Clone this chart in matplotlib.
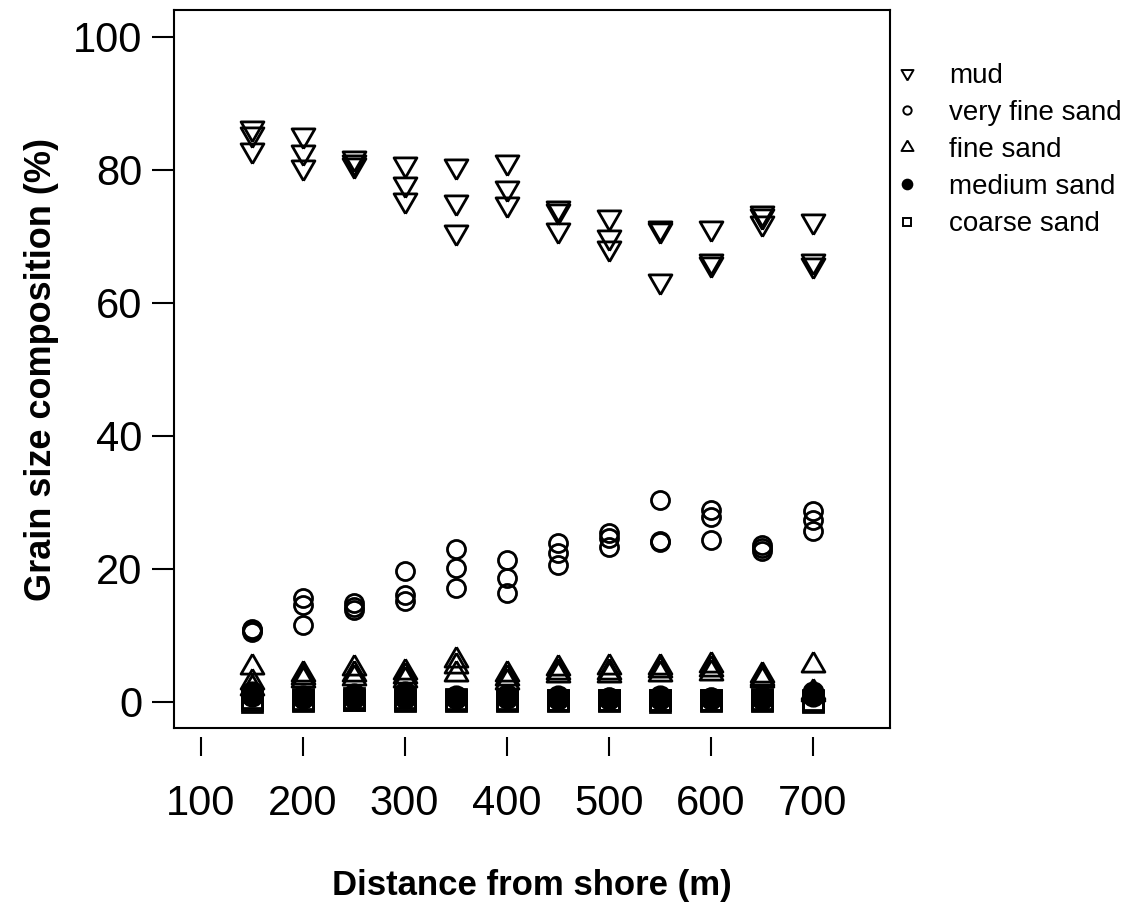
import numpy as np
import matplotlib
matplotlib.use("Agg")
import matplotlib.pyplot as plt
from matplotlib.lines import Line2D

plt.rcParams["font.family"] = ["Liberation Sans", "DejaVu Sans"]

# sampling stations, three replicate cores at each
stations = [150, 200, 250, 300, 350, 400, 450, 500, 550, 600, 650, 700]
distance = np.repeat(stations, 3)

# grain size fractions (%)
mud = [86.3, 85.4, 82.9, 85.2, 82.6, 80.4, 81.8, 81.2, 80.7,
       80.9, 77.9, 75.5, 80.6, 75.2, 70.6, 81.2, 77.2, 74.9,
       74.2, 73.8, 70.9, 72.8, 69.8, 68.2, 71.2, 70.9, 63.2,
       71.2, 66.2, 65.8, 73.5, 73.0, 71.9, 72.2, 66.2, 65.7]

very_fine_sand = [10.8, 10.5, 11.0, 15.6, 14.6, 11.6, 14.8, 14.3, 13.8,
                  19.6, 16.1, 15.1, 23.0, 20.1, 17.1, 21.3, 18.6, 16.3,
                  23.8, 22.4, 20.5, 25.3, 24.6, 23.3, 30.3, 24.2, 24.0,
                  28.8, 27.8, 24.3, 23.6, 23.1, 22.7, 28.6, 27.3, 25.6]

fine_sand = [5.2, 3.0, 2.0, 4.2, 3.7, 3.2, 5.0, 4.2, 3.5,
             4.5, 3.8, 3.2, 6.3, 5.4, 4.2, 4.2, 3.5, 3.0,
             5.0, 4.5, 4.0, 5.2, 4.5, 4.0, 5.2, 4.8, 4.2,
             5.5, 4.9, 4.3, 4.0, 3.6, 3.3, 5.5, 1.5, 1.2]

medium_sand = [1.5, 1.0, 0.8, 0.8, 0.6, 0.5, 1.2, 0.8, 0.5,
               1.5, 1.0, 0.6, 0.8, 0.6, 0.5, 1.0, 0.7, 0.5,
               0.8, 0.5, 0.4, 0.6, 0.5, 0.4, 0.8, 0.6, 0.4,
               0.6, 0.5, 0.4, 0.7, 0.5, 0.4, 1.5, 1.0, 0.8]

coarse_sand = [0.0, 0.3, 0.5, 0.1, 0.2, 0.4, 0.2, 0.3, 0.6,
               0.1, 0.3, 0.5, 0.1, 0.2, 0.4, 0.1, 0.3, 0.4,
               0.1, 0.2, 0.3, 0.1, 0.2, 0.3, 0.0, 0.2, 0.3,
               0.1, 0.2, 0.3, 0.1, 0.2, 0.4, 0.0, 0.1, 0.2]

labels = ["mud", "very fine sand", "fine sand", "medium sand", "coarse sand"]

# equilateral triangles centred on their centroid
tri_up = [(0, 1), (-0.866, -0.5), (0.866, -0.5), (0, 1)]
tri_down = [(0, -1), (-0.866, 0.5), (0.866, 0.5), (0, -1)]

styles = [
    dict(marker=tri_down, mfc="none", ms=19),
    dict(marker="o", mfc="none", ms=13),
    dict(marker=tri_up, mfc="none", ms=19),
    dict(marker="o", mfc="black", ms=14),
    dict(marker="s", mfc="none", ms=14),
]
legend_ms = [10, 6, 10, 7, 6]

series = [mud, very_fine_sand, fine_sand, medium_sand, coarse_sand]

fig = plt.figure(figsize=(11.33, 9.07), dpi=100)
ax = fig.add_axes([0.1536, 0.197, 0.632, 0.792])

for values, st in zip(series, styles):
    ax.plot(distance, values, linestyle="none", mec="black", mew=2.0, **st)

ax.set_xlim(74, 776)
ax.set_ylim(-4, 104)

for sp in ax.spines.values():
    sp.set_linewidth(1.5)

ax.set_yticks([0, 20, 40, 60, 80, 100])
ax.tick_params(axis="y", direction="out", length=16, width=1.5,
               pad=7, labelsize=30)

# x axis is drawn a little below the box
ax.set_xticks([])
sec = ax.secondary_xaxis(-0.012)
sec.set_xticks([100, 200, 300, 400, 500, 600, 700])
sec.spines["bottom"].set_visible(False)
sec.tick_params(axis="x", direction="out", length=14, width=1.5,
                pad=20, labelsize=30)

ax.set_ylabel("Grain size composition (%)", fontsize=26, fontweight="bold")
ax.yaxis.set_label_coords(-0.160, 0.5)
fig.text(0.469, 1 - 885 / 907, "Distance from shore (m)", fontsize=25,
         fontweight="bold", ha="center", va="center")

handles = []
for st, ms in zip(styles, legend_ms):
    h = Line2D([], [], linestyle="none", mec="black", mew=1.4,
               marker=st["marker"], mfc=st["mfc"], ms=ms)
    handles.append(h)

fig.legend(handles, labels, loc="upper left", bbox_to_anchor=(0.781, 0.943),
           frameon=False, fontsize=20, handlelength=0.8, handletextpad=1.12,
           labelspacing=0.4, borderaxespad=0)

fig.savefig("out.png", dpi=100)
